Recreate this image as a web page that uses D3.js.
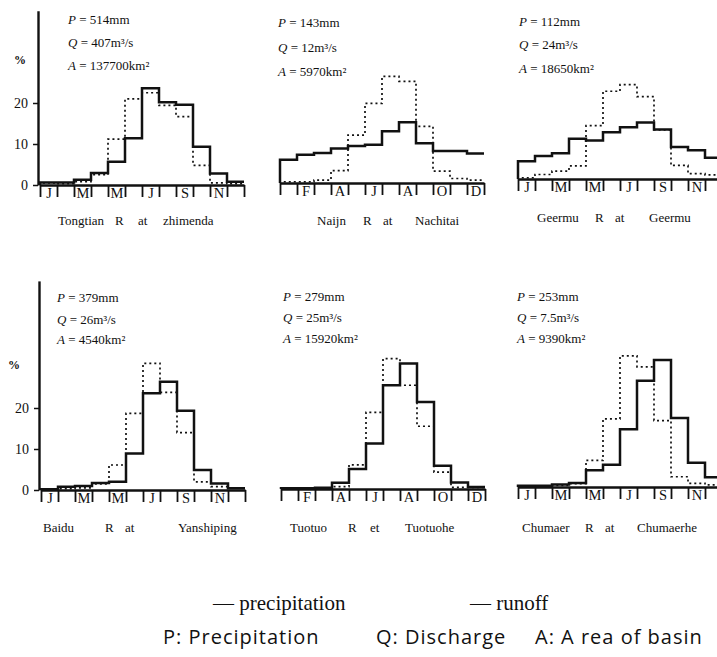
<!DOCTYPE html>
<html>
<head>
<meta charset="utf-8">
<script src="https://cdn.jsdelivr.net/npm/d3@7"></script>
<style>
body { margin: 0; background: #fff; }
svg text { font-family: "Liberation Serif", "DejaVu Serif", serif; fill: #111; }
</style>
</head>
<body>
<script>
// month letters and the stations
const months = ["J", "F", "M", "A", "M", "J", "J", "A", "S", "O", "N", "D"];
const stations = ["Tongtian|R|at|zhimenda", "Naijn|R|at|Nachitai", "Geermu|R|at|Geermu",
                  "Baidu|R|at|Yanshiping", "Tuotuo|R|et|Tuotuohe", "Chumaer|R|at|Chumaerhe"];
const precipP = ["514", "143", "112", "379", "279", "253"];
const dischargeQ = ["407", "12", "24", "26", "25", "7.5"];
const areaA = ["137700", "5970", "18650", "4540", "15920", "9390"];

// monthly share of the year, %  (solid = runoff, dotted = precipitation)
const runoffTongtian = [0.6, 0.6, 1.3, 2.9, 5.7, 11.4, 23.6, 20.2, 19.6, 9.3, 2.8, 0.8];
const precipTongtian = [0.5, 0.3, 0.8, 2.5, 11.2, 21.0, 22.5, 19.4, 16.7, 4.8, 0.5, 0.3];
const runoffNaijn = [5.7, 6.9, 7.3, 8.4, 9.0, 9.3, 12.6, 14.8, 9.7, 7.8, 7.8, 7.2];
const precipNaijn = [0.3, 0.3, 0.7, 3.0, 11.7, 19.4, 26.0, 24.8, 13.8, 2.9, 1.1, 0.7];
const runoffGeermu = [4.3, 5.6, 6.3, 9.8, 9.4, 11.4, 12.6, 13.8, 12.1, 7.8, 7.0, 5.2];
const precipGeermu = [0.3, 1.1, 1.9, 3.2, 13.0, 21.4, 23.0, 20.1, 12.0, 3.3, 1.3, 1.0];
const runoffBaidu = [0.2, 0.8, 1.0, 1.7, 2.0, 8.9, 23.6, 26.4, 19.3, 4.9, 1.6, 0.4];
const precipBaidu = [0.2, 0.3, 0.5, 1.5, 6.1, 18.7, 30.9, 23.8, 14.0, 2.0, 0.8, 0.5];
const runoffTuotuo = [0.2, 0.2, 0.3, 1.5, 4.9, 11.1, 25.3, 30.6, 21.2, 5.7, 1.6, 0.5];
const precipTuotuo = [0.1, 0.1, 0.2, 0.6, 5.9, 18.7, 31.8, 25.3, 15.3, 4.1, 0.4, 0.4];
const runoffChumaer = [0.3, 0.3, 0.6, 1.0, 4.1, 5.4, 14.1, 25.9, 31.0, 16.8, 5.9, 2.4];
const precipChumaer = [0.2, 0.2, 0.4, 0.8, 6.5, 16.6, 32.0, 29.3, 16.2, 2.5, 0.9, 0.5];

const runoffs = [runoffTongtian, runoffNaijn, runoffGeermu, runoffBaidu, runoffTuotuo, runoffChumaer];
const precips = [precipTongtian, precipNaijn, precipGeermu, precipBaidu, precipTuotuo, precipChumaer];

// legend lines
const legendTop = ["— precipitation", "— runoff"];
const legendBottom = ["P: Precipitation", "Q: Discharge", "A: A rea of basin"];

const width = 717, height = 657;
const monthW = 17, pxPerPct = 4.1;

// where each small panel sits
const layout = [
  {x0: 40,  base: 185, first: 0, yTop: 42.5, tx: 68,  ty: [24, 47, 70],   wx: [58, 115, 138, 163], wy: 225, pct: [14, 64]},
  {x0: 280, base: 183, first: 1, yTop: null, tx: 278, ty: [27, 52, 76],   wx: [317, 363, 383, 415], wy: 225},
  {x0: 518, base: 179, first: 0, yTop: null, tx: 519, ty: [26, 49, 73],   wx: [537, 595, 615, 649], wy: 222},
  {x0: 41,  base: 490, first: 0, yTop: 51,   tx: 57,  ty: [302, 324, 344], wx: [43, 105, 125, 178], wy: 532, pct: [8, 369]},
  {x0: 281, base: 489, first: 1, yTop: null, tx: 283, ty: [301, 322, 343], wx: [290, 348, 370, 405], wy: 532},
  {x0: 518, base: 487, first: 0, yTop: null, tx: 517, ty: [301, 322, 343], wx: [522, 585, 605, 637], wy: 532}
];

const svg = d3.select("body").append("svg")
  .attr("width", width)
  .attr("height", height);

svg.append("rect").attr("width", width).attr("height", height).attr("fill", "#fff");

layout.forEach((p, k) => {
  const g = svg.append("g");
  const x = d3.scaleLinear().domain([0, 12]).range([p.x0, p.x0 + 12 * monthW]);
  const y = d3.scaleLinear().domain([0, 10]).range([p.base, p.base - 10 * pxPerPct]);

  // month ticks on the base line
  const xa = g.append("g")
    .attr("transform", `translate(0,${p.base})`)
    .call(d3.axisBottom(x).tickValues(d3.range(13)).tickSize(12).tickSizeOuter(0).tickFormat(""));
  xa.select(".domain").attr("stroke", "#111").attr("stroke-width", 2.4);
  xa.selectAll(".tick line").attr("stroke", "#111").attr("stroke-width", 1.8);

  // month letters in every second cell
  const centers = d3.range(p.first, 12, 2).map(i => i + 0.5);
  const xl = g.append("g")
    .attr("transform", `translate(0,${p.base})`)
    .call(d3.axisBottom(x).tickValues(centers).tickSize(0).tickPadding(3)
      .tickFormat(d => months[Math.floor(d)]));
  xl.select(".domain").remove();
  xl.selectAll("text").style("font-size", "14.5px").style("font-family", "Liberation Serif, serif")
    .attr("fill", "#111");

  // left axis only for the first column
  if (p.yTop) {
    const yScale = d3.scaleLinear().domain([0, p.yTop]).range([p.base, p.base - p.yTop * pxPerPct]);
    const ya = g.append("g")
      .attr("transform", `translate(${p.x0 - 2},0)`)
      .call(d3.axisLeft(yScale).tickValues([0, 10, 20]).tickSize(5).tickSizeOuter(0).tickPadding(5));
    ya.select(".domain").attr("stroke", "#111").attr("stroke-width", 2.4);
    ya.selectAll(".tick line").attr("stroke", "#111").attr("stroke-width", 1.5);
    ya.selectAll("text").style("font-size", "14px").style("font-family", "Liberation Serif, serif")
      .attr("fill", "#111");
    g.append("text").attr("x", p.pct[0]).attr("y", p.pct[1])
      .style("font-size", "12px").style("font-weight", "bold").text("%");
  }

  // step outlines
  const line = d3.line().x(d => x(d[0])).y(d => y(d[1])).curve(d3.curveStepAfter);
  const steps = vals => [[0, 0]].concat(vals.map((v, i) => [i, v]), [[12, vals[11]]]);

  g.append("path").datum(steps(precips[k])).attr("d", line)
    .attr("fill", "none").attr("stroke", "#111").attr("stroke-width", 1.7)
    .attr("stroke-dasharray", "2,3");
  g.append("path").datum(steps(runoffs[k])).attr("d", line)
    .attr("fill", "none").attr("stroke", "#111").attr("stroke-width", 2.5);

  // P, Q, A notes
  const notes = [["P", " = " + precipP[k] + "mm"], ["Q", " = " + dischargeQ[k] + "m³/s"], ["A", " = " + areaA[k] + "km²"]];
  notes.forEach((n, j) => {
    const t = g.append("text").attr("x", p.tx).attr("y", p.ty[j]).style("font-size", "13px");
    t.append("tspan").style("font-style", "italic").text(n[0]);
    t.append("tspan").text(n[1]);
  });

  // station name under the axis
  stations[k].split("|").forEach((w, j) => {
    g.append("text").attr("x", p.wx[j]).attr("y", p.wy).style("font-size", "13px").text(w);
  });
});

// legend
[[213, legendTop[0]], [470, legendTop[1]]].forEach(d => {
  svg.append("text").attr("x", d[0]).attr("y", 610)
    .style("font-family", "Liberation Serif, serif").style("font-size", "21px").text(d[1]);
});
[[163, legendBottom[0]], [376, legendBottom[1]], [535, legendBottom[2]]].forEach(d => {
  svg.append("text").attr("x", d[0]).attr("y", 644).style("font-family", "Open Sans, DejaVu Sans, sans-serif")
    .style("font-size", "20px").style("letter-spacing", "1px").text(d[1]);
});
</script>
</body>
</html>
